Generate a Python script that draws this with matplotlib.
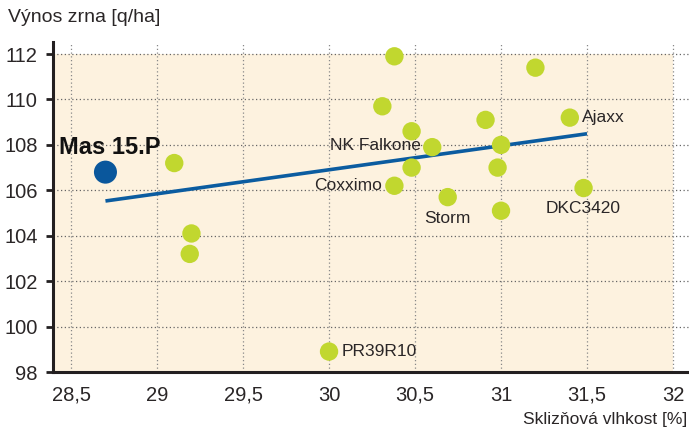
import matplotlib
matplotlib.use("Agg")
import matplotlib.pyplot as plt
from matplotlib.patches import Rectangle

plt.rcParams['font.family'] = ['Liberation Sans', 'DejaVu Sans']

# Data
moisture = [29.1, 29.2, 29.19, 30.0, 30.38, 30.31, 30.48, 30.6, 30.48, 30.38,
            30.69, 30.91, 31.0, 30.98, 31.0, 31.2, 31.4, 31.48]
yield_ = [107.2, 104.1, 103.2, 98.9, 111.9, 109.7, 108.6, 107.9, 107.0, 106.2,
          105.7, 109.1, 108.0, 107.0, 105.1, 111.4, 109.2, 106.1]
names = ["", "", "", "PR39R10", "", "", "", "NK Falkone", "", "Coxximo",
         "Storm", "", "", "", "", "", "Ajaxx", "DKC3420"]
mas_x = [28.7]
mas_y = [106.8]
mas_name = "Mas 15.P"
trend_x = [28.7, 31.5]
trend_y = [105.53, 108.49]
xticks = [28.5, 29, 29.5, 30, 30.5, 31, 31.5, 32]
xticklabels = ["28,5", "29", "29,5", "30", "30,5", "31", "31,5", "32"]
yticks = [98, 100, 102, 104, 106, 108, 110, 112]

fig = plt.figure(figsize=(6.89, 4.28), dpi=100)
ax = fig.add_axes([53/689, 56/428, 636/689, 330/428])
ax.set_xlim(28.395, 32.093)
ax.set_ylim(98, 112.53)

ax.add_patch(Rectangle((28.395, 98), 32 - 28.395, 14, facecolor="#fdf2df",
                       edgecolor="none", zorder=0))
for yv in yticks[1:]:
    ax.axhline(yv, color="#666666", lw=0.9, ls=(0, (1, 2)), zorder=1)
for xv in xticks:
    ax.axvline(xv, color="#888888", lw=0.9, ls=(0, (1, 2)), zorder=1)

ax.plot(trend_x, trend_y, color="#0b5ca0", lw=2.6, zorder=3, solid_capstyle="butt")
ax.scatter(moisture, yield_, s=175, color="#c1d72f", edgecolors="none", zorder=4)
ax.scatter(mas_x, mas_y, s=275, color="#0a579c", edgecolors="none", zorder=5)

tc = "#2a2627"
offsets = {
    "PR39R10": (9, 0, "left", "center"),
    "NK Falkone": (-8, 1, "right", "center"),
    "Coxximo": (-9, 0.5, "right", "center"),
    "Storm": (0, -10, "center", "top"),
    "Ajaxx": (9, 0, "left", "center"),
    "DKC3420": (0, -9.5, "center", "top"),
}
for x, y, n in zip(moisture, yield_, names):
    if n:
        dx, dy, ha, va = offsets[n]
        ax.annotate(n, (x, y), xytext=(dx, dy), textcoords="offset points",
                    ha=ha, va=va, fontsize=12.5, color=tc, zorder=6)
ax.annotate(mas_name, (mas_x[0], mas_y[0]), xytext=(3, 18), textcoords="offset points",
            ha="center", va="center", fontsize=17, fontweight="bold", color="#111111", zorder=6)

for s in ["top", "right"]:
    ax.spines[s].set_visible(False)
for s in ["left", "bottom"]:
    ax.spines[s].set_linewidth(2.2)
    ax.spines[s].set_color("#231f20")
ax.set_xticks(xticks)
ax.set_xticklabels(xticklabels)
ax.set_yticks(yticks)
ax.tick_params(axis="x", length=0, pad=10, labelsize=14.5, labelcolor=tc)
ax.tick_params(axis="y", length=5, width=2, color="#231f20", pad=6, labelsize=14.5, labelcolor=tc)

fig.text(8/689, 1 - 18/428, "Výnos zrna [q/ha]", ha="left", va="center", fontsize=14, color=tc)
fig.text(687/689, 1 - 424/428, "Sklizňová vlhkost [%]", ha="right", va="baseline",
         fontsize=12.5, color=tc)

fig.savefig("out.png", dpi=100)
